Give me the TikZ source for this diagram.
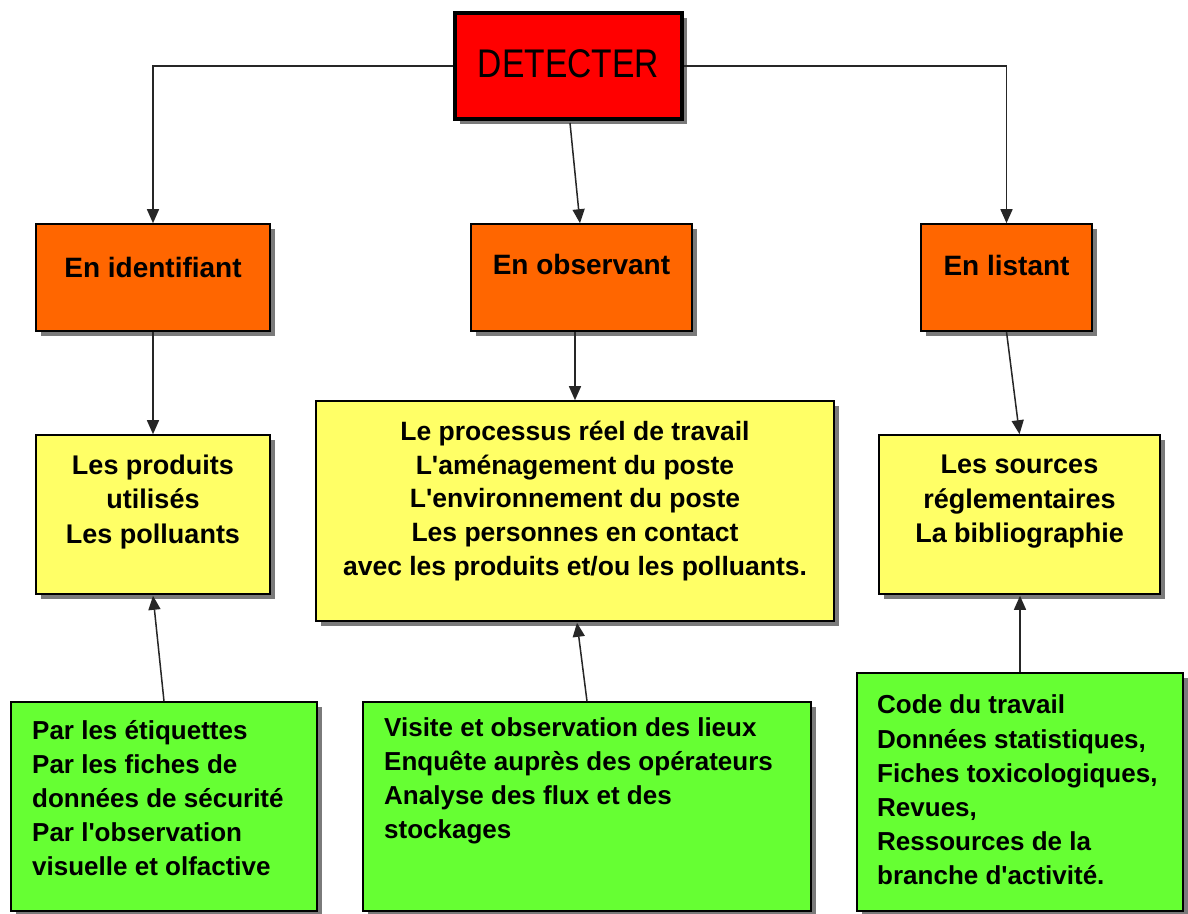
\documentclass[tikz,border=0pt]{standalone}
\usepackage{fontspec}
\setmainfont{Liberation Sans}
\usetikzlibrary{arrows.meta,shadows,calc}
\definecolor{cred}{HTML}{FF0000}
\definecolor{corange}{HTML}{FF6600}
\definecolor{cyellow}{HTML}{FFFF66}
\definecolor{cgreen}{HTML}{66FF33}
\definecolor{cshadow}{HTML}{7A7A7A}
\newcommand{\q}{\textquotesingle}
\begin{document}
\begin{tikzpicture}[x=1pt,y=-1pt,
  box/.style={draw=black, line width=1.6pt, rectangle, inner sep=0pt,
    drop shadow={shadow xshift=5pt, shadow yshift=-5pt, fill=cshadow, opacity=1}},
  lbl/.style={font=\fontsize{27}{34.5}\selectfont\bfseries, inner sep=0pt, align=center},
  glbl/.style={font=\fontsize{26}{34.2}\selectfont\bfseries, inner sep=0pt, align=left, anchor=west},
  hlbl/.style={font=\fontsize{28}{34}\selectfont\bfseries, inner sep=0pt},
  arr/.style={draw=black!85, line width=1.5pt, -{Triangle[length=14pt,width=12pt]}}
]
\fill[white] (0,0) rectangle (1188,913);
\useasboundingbox (0,0) rectangle (1188,913);

% top
\node[box, fill=cred, line width=4pt, minimum width=227pt, minimum height=106pt] (det) at (568.5,66) {};
\node[inner sep=0pt, font=\fontsize{40}{40}\selectfont] (dett) at (568.5,64) {\scalebox{0.84}[1]{DETECTER}};

% second row
\node[box, fill=corange, minimum width=234pt, minimum height=107pt] (id) at (153,277.5) {};
\node[hlbl] (idt) at (153,267) {En identifiant};
\node[box, fill=corange, minimum width=221pt, minimum height=107pt] (obs) at (581.5,277.5) {};
\node[hlbl] (obst) at (581.5,264) {En observant};
\node[box, fill=corange, minimum width=171pt, minimum height=107pt] (lst) at (1006.5,277.5) {};
\node[hlbl] (lstt) at (1006.5,265) {En listant};

% third row
\node[box, fill=cyellow, minimum width=234pt, minimum height=159pt] (prod) at (153,514.5) {};
\node[lbl] (prodt) at (153,502) {Les produits\\utilisés\\Les polluants};
\node[box, fill=cyellow, minimum width=518pt, minimum height=220pt] (proc) at (575,511) {};
\node[lbl, font=\fontsize{26.5}{33.6}\selectfont\bfseries] (proct) at (575,501) {Le processus réel de travail\\L\q aménagement du poste\\L\q environnement du poste\\Les personnes en contact\\avec les produits et/ou les polluants.};
\node[box, fill=cyellow, minimum width=281pt, minimum height=159pt] (src) at (1019.5,514.5) {};
\node[lbl] (srct) at (1019.5,502) {Les sources\\réglementaires\\La bibliographie};

% bottom row
\node[box, fill=cgreen, minimum width=306pt, minimum height=209pt] (g1) at (164,806.5) {};
\node[glbl] (g1t) at (32,798) {Par les étiquettes\\Par les fiches de\\données de sécurité\\Par l\q observation\\visuelle et olfactive};
\node[box, fill=cgreen, minimum width=448pt, minimum height=209pt] (g2) at (587,806.5) {};
\node[glbl] (g2t) at (384,781) {Visite et observation des lieux\\Enquête auprès des opérateurs\\Analyse des flux et des\\stockages};
\node[box, fill=cgreen, minimum width=326pt, minimum height=238pt] (g3) at (1020,792) {};
\node[glbl] (g3t) at (877,790) {Code du travail\\Données statistiques,\\Fiches toxicologiques,\\Revues,\\Ressources de la\\branche d\q activité.};

% connectors
\draw[arr] (det.west) -| (id.north);
\draw[arr] (det.east) -| (lst.north);
\draw[arr] ($(det.south)+(1.5,2)$) -- ($(obs.north)+(-1.5,0)$);
\draw[arr] (id.south) -- (prod.north);
\draw[arr] ($(obs.south)+(-6.5,0)$) -- (proc.north);
\draw[arr] (lst.south) -- (src.north);
\draw[arr] (g1.north) -- ($(prod.south)+(0,1)$);
\draw[arr] (g2.north) -- ($(proc.south)+(2,1)$);
\draw[arr] (g3.north) -- ($(src.south)+(0.5,1)$);
\end{tikzpicture}
\end{document}
